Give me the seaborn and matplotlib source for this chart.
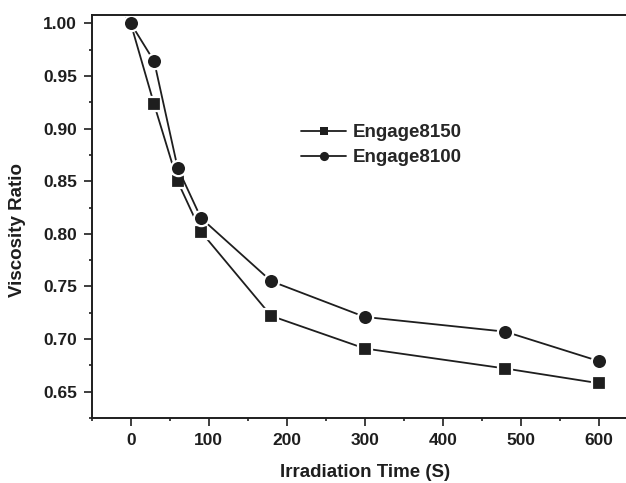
import numpy as np
import pandas as pd
import matplotlib
matplotlib.use("Agg")
import matplotlib.pyplot as plt
import seaborn as sns
from matplotlib.ticker import MultipleLocator, FormatStrFormatter

# datos
tiempo = [0, 30, 60, 90, 180, 300, 480, 600]
engage8150 = [1.000, 0.923, 0.850, 0.802, 0.722, 0.691, 0.672, 0.658]
engage8100 = [1.000, 0.964, 0.863, 0.815, 0.755, 0.721, 0.707, 0.679]
series = ["Engage8150", "Engage8100"]

df = pd.DataFrame({
    "Irradiation Time (S)": tiempo * 2,
    "Viscosity Ratio": engage8150 + engage8100,
    "muestra": [series[0]] * len(tiempo) + [series[1]] * len(tiempo),
})

sns.set_style("ticks")
plt.rcParams["font.family"] = ["Liberation Sans", "DejaVu Sans"]
plt.rcParams["font.weight"] = "bold"

negro = "#1e1e1e"

fig = plt.figure(figsize=(6.26, 4.83), dpi=100)
ax = fig.add_axes([0.1465, 0.134, 0.8727, 0.835])

sns.lineplot(data=df, x="Irradiation Time (S)", y="Viscosity Ratio",
             style="muestra", markers={"Engage8150": "s", "Engage8100": "o"},
             dashes=False, color=negro, linewidth=1.3, markersize=10,
             markeredgecolor="white", markeredgewidth=1.6, ax=ax)

# circulos un poco mas grandes que los cuadrados
for ln in ax.lines:
    if ln.get_marker() == "o":
        ln.set_markersize(11)

ax.set_xlim(-50, 650)
ax.set_ylim(0.6247, 1.008)
ax.xaxis.set_major_locator(MultipleLocator(100))
ax.xaxis.set_minor_locator(MultipleLocator(50))
ax.yaxis.set_major_locator(MultipleLocator(0.05))
ax.yaxis.set_minor_locator(MultipleLocator(0.025))
ax.yaxis.set_major_formatter(FormatStrFormatter("%.2f"))

ax.tick_params(which="major", direction="out", length=5.5, width=1.2,
               labelsize=12.5, colors=negro, pad=5)
ax.tick_params(which="minor", direction="out", length=2.5, width=1.2,
               colors=negro)
for lab in ax.get_xticklabels() + ax.get_yticklabels():
    lab.set_fontweight("bold")
for s in ax.spines.values():
    s.set_linewidth(1.4)
    s.set_color(negro)

ax.set_xlabel("Irradiation Time (S)", fontsize=13.5, fontweight="bold",
              color=negro)
ax.set_ylabel("Viscosity Ratio", fontsize=13.5, fontweight="bold",
              color=negro)
ax.xaxis.set_label_coords(0.5, -0.113)
ax.yaxis.set_label_coords(-0.120, 0.467)

handles, labels = ax.get_legend_handles_labels()
for h in handles:
    h.set_markeredgewidth(0)
ax.legend(handles, labels, loc="center left", bbox_to_anchor=(0.384, 0.677),
          frameon=False, markerscale=0.6, handlelength=2.4,
          handletextpad=0.32, labelspacing=0.41, borderpad=0, borderaxespad=0,
          prop={"weight": "bold", "size": 13.5})

fig.savefig("out.png", dpi=100)
